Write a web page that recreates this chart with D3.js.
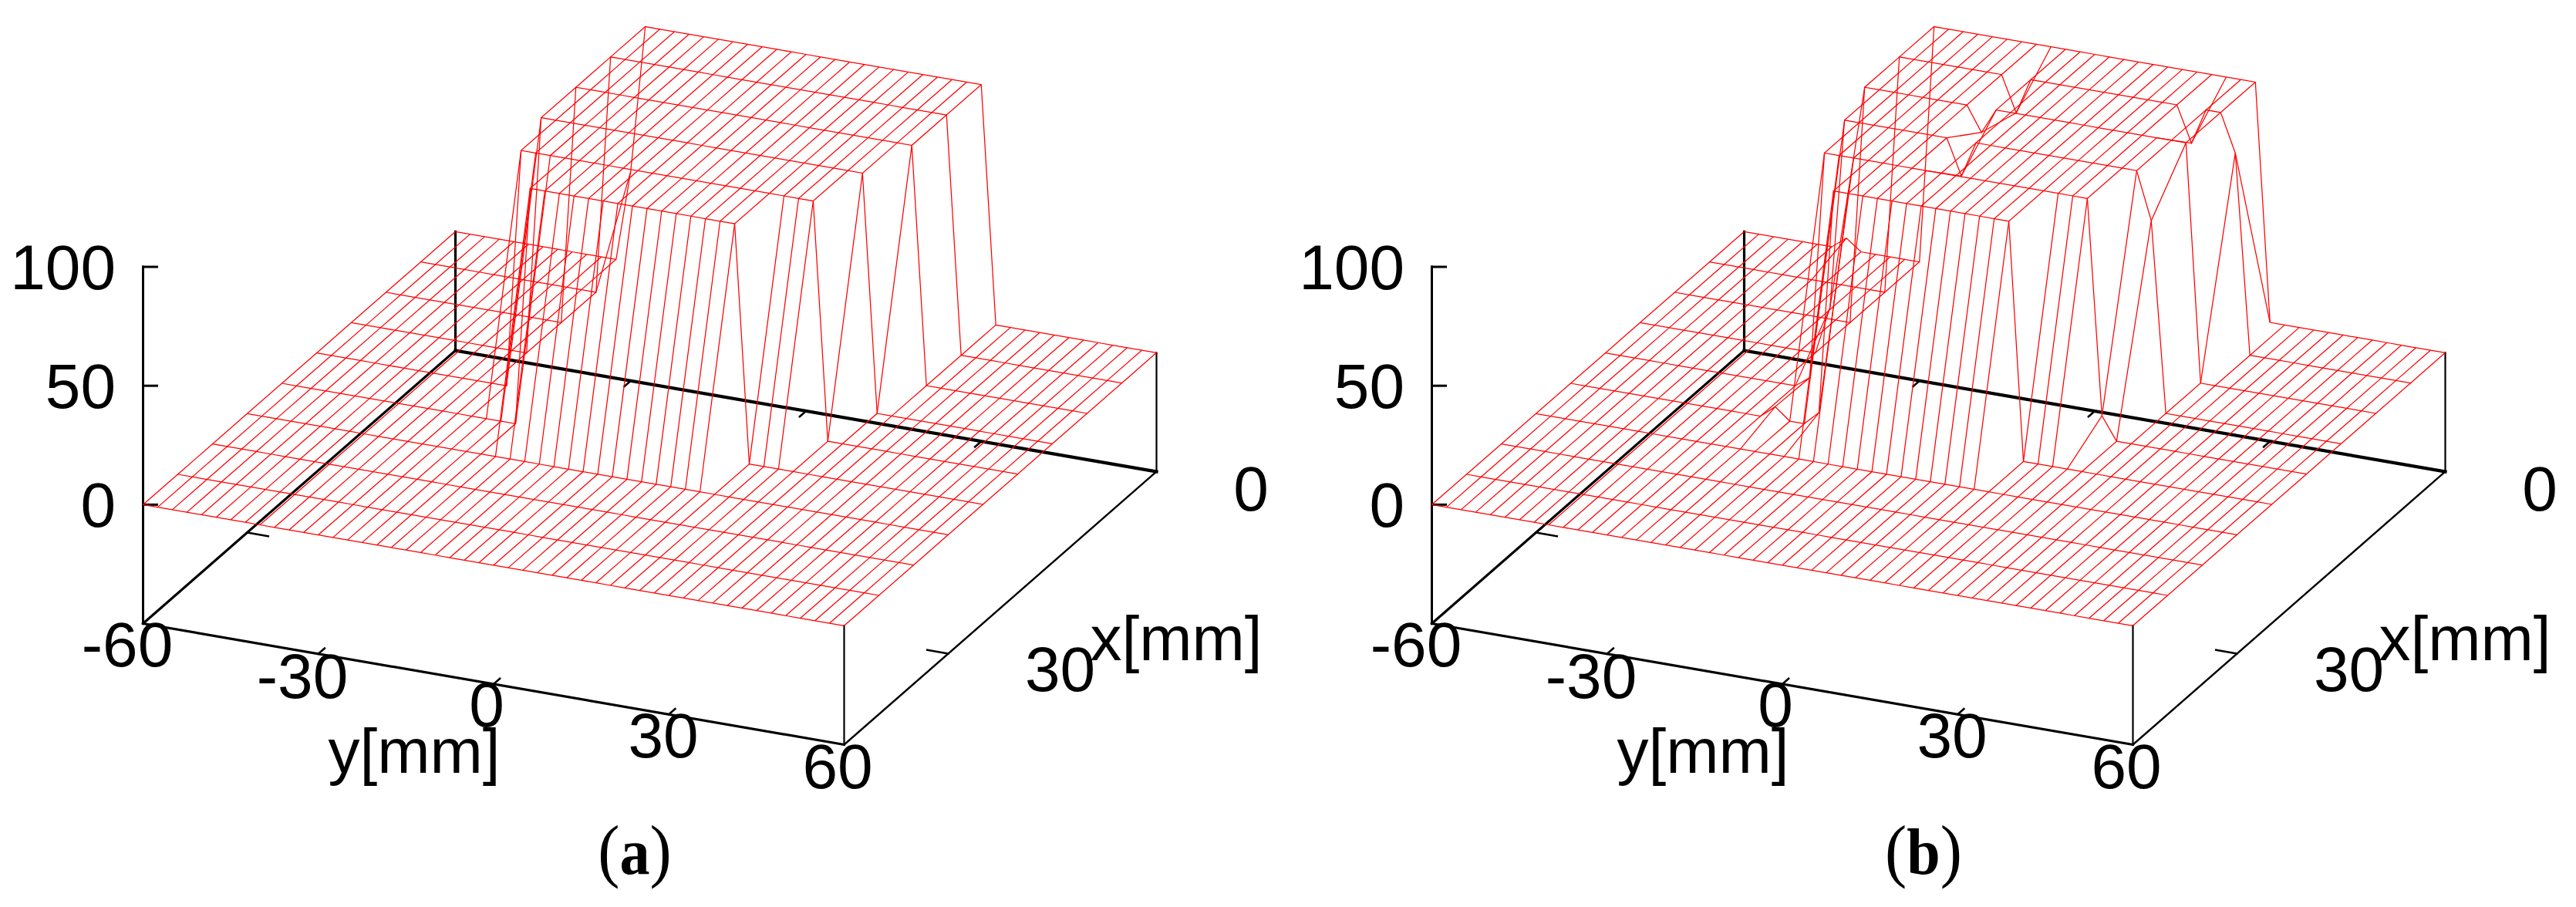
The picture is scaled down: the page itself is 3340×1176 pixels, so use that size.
<!DOCTYPE html>
<html>
<head>
<meta charset="utf-8">
<title>Surface plots</title>
<script src="https://d3js.org/d3.v7.min.js"></script>
<style>
html,body{margin:0;padding:0;background:#fff;}
svg{display:block;}
text{font-family:"Liberation Sans",Arial,sans-serif;fill:#000;}
.cap{font-family:"Liberation Serif",serif;}
</style>
</head>
<body>
<svg id="chart" width="3340" height="1176"></svg>
<script>
// Sample positions of the mesh (mm)
const xSamples = [0,5,10,15,20,25,30,35,40,45];
const ySamples = [-60,-57.5,-55,-52.5,-50,-47.5,-45,-42.5,-40,-37.5,
  -35,-32.5,-30,-27.5,-25,-22.5,-20,-17.5,-15,-12.5,
  -10,-7.5,-5,-2.5,0,2.5,5,7.5,10,12.5,
  15,17.5,20,22.5,25,27.5,30,32.5,35,37.5,
  40,42.5,45,47.5,50,52.5,55,57.5,60];

// Tick values and labels
const zTicks = [0,50,100];
const yTicks = [-60,-30,0,30,60];
const xTicks = [0,30];
const captions = ["a","b"];

// Panel (a): height per row x (rows) and y sample (columns)
const surfaceA = [
 [0,0,0,0,0,0,0,0,0,0, 0,0,38,100,100,100,100,100,100,100, 100,100,100,100,100,100,100,100,100,100, 100,100,100,100,100,100,100,0,0,0, 0,0,0,0,0,0,0,0,0],
 [0,0,0,0,0,0,0,0,0,0, 0,0,0,100,100,100,100,100,100,100, 100,100,100,100,100,100,100,100,100,100, 100,100,100,100,100,100,100,0,0,0, 0,0,0,0,0,0,0,0,0],
 [0,0,0,0,0,0,0,0,0,0, 0,0,0,100,100,100,100,100,100,100, 100,100,100,100,100,100,100,100,100,100, 100,100,100,100,100,100,100,0,0,0, 0,0,0,0,0,0,0,0,0],
 [0,0,0,0,0,0,0,0,0,0, 0,0,0,100,100,100,100,100,100,100, 100,100,100,100,100,100,100,100,100,100, 100,100,100,100,100,100,0,0,0,0, 0,0,0,0,0,0,0,0,0],
 [0,0,0,0,0,0,0,0,0,0, 0,0,0,0,100,100,100,100,100,100, 100,100,100,100,100,100,100,100,100,100, 100,100,100,100,100,0,0,0,0,0, 0,0,0,0,0,0,0,0,0],
 [0,0,0,0,0,0,0,0,0,0, 0,0,0,0,0,0,0,100,100,100, 100,100,100,100,100,100,100,100,100,100, 100,100,0,0,0,0,0,0,0,0, 0,0,0,0,0,0,0,0,0],
 [0,0,0,0,0,0,0,0,0,0, 0,0,0,0,0,0,0,0,0,0, 0,0,0,0,0,0,0,0,0,0, 0,0,0,0,0,0,0,0,0,0, 0,0,0,0,0,0,0,0,0],
 [0,0,0,0,0,0,0,0,0,0, 0,0,0,0,0,0,0,0,0,0, 0,0,0,0,0,0,0,0,0,0, 0,0,0,0,0,0,0,0,0,0, 0,0,0,0,0,0,0,0,0],
 [0,0,0,0,0,0,0,0,0,0, 0,0,0,0,0,0,0,0,0,0, 0,0,0,0,0,0,0,0,0,0, 0,0,0,0,0,0,0,0,0,0, 0,0,0,0,0,0,0,0,0],
 [0,0,0,0,0,0,0,0,0,0, 0,0,0,0,0,0,0,0,0,0, 0,0,0,0,0,0,0,0,0,0, 0,0,0,0,0,0,0,0,0,0, 0,0,0,0,0,0,0,0,0]
];

// Panel (b)
const surfaceB = [
 [0,0,0,0,0,0,0,4.7,0,0, 0,0,0,100,100,100,100,100,100,100, 100,100,100,100,100,100,100,100,100,100, 100,100,100,100,100,100,0,0,0,0, 0,0,0,0,0,0,0,0,0],
 [0,0,0,0,0,0,0,0,0,0, 0,0,0,100,100,100,100,100,100,100, 100,85,100,100,100,100,100,100,100,100, 100,100,100,85,100,100,84,0,0,0, 0,0,0,0,0,0,0,0,0],
 [0,0,0,0,0,0,0,0,0,0, 0,0,0,100,100,100,100,100,100,100, 100,89.5,100,100,100,100,100,100,100,100, 100,100,100,100,100,100,0,0,0,0, 0,0,0,0,0,0,0,0,0],
 [0,0,0,0,0,0,0,0,0,0, 0,0,0,20,100,100,100,100,100,100, 100,100,85,100,100,100,100,100,100,100, 100,100,100,100,100,80,0,0,0,0, 0,0,0,0,0,0,0,0,0],
 [0,0,0,0,0,0,0,0,0,0, 0,0,0,0,4.5,100,100,100,100,100, 100,100,100,100,100,100,100,100,100,100, 100,100,100,100,9.7,0,0,0,0,0, 0,0,0,0,0,0,0,0,0],
 [0,0,0,0,0,0,0,0,0,0, 0,0,0,0,5,0,0,5.7,100,100, 100,100,100,100,100,100,100,100,100,100, 100,0,0,0,0,0,0,0,0,0, 0,0,0,0,0,0,0,0,0],
 [0,0,0,0,0,0,0,0,0,0, 0,0,0,0,0,0,0,0,0,0, 0,0,0,0,0,0,0,0,0,0, 0,0,0,0,0,0,0,0,0,0, 0,0,0,0,0,0,0,0,0],
 [0,0,0,0,0,0,0,0,0,0, 0,0,0,0,0,0,0,0,0,0, 0,0,0,0,0,0,0,0,0,0, 0,0,0,0,0,0,0,0,0,0, 0,0,0,0,0,0,0,0,0],
 [0,0,0,0,0,0,0,0,0,0, 0,0,0,0,0,0,0,0,0,0, 0,0,0,0,0,0,0,0,0,0, 0,0,0,0,0,0,0,0,0,0, 0,0,0,0,0,0,0,0,0],
 [0,0,0,0,0,0,0,0,0,0, 0,0,0,0,0,0,0,0,0,0, 0,0,0,0,0,0,0,0,0,0, 0,0,0,0,0,0,0,0,0,0, 0,0,0,0,0,0,0,0,0]
];

const svg = d3.select("#chart");

// Oblique projection built from linear scales: screen = origin + y part + x part + z part
const origin = [590.5, 454.5];
const yToSx = d3.scaleLinear().domain([-60,60]).range([0,909]);
const yToSy = d3.scaleLinear().domain([-60,60]).range([0,157]);
const xToSx = d3.scaleLinear().domain([0,45]).range([0,-405]);
const xToSy = d3.scaleLinear().domain([0,45]).range([0,354]);
const zToSy = d3.scaleLinear().domain([-50,100]).range([0,-462.5]);
const zMin = -50;

const sx = (x,y) => origin[0] + yToSx(y) + xToSx(x);
const sy = (x,y,z) => origin[1] + yToSy(y) + xToSy(x) + zToSy(z);
const line = d3.line().x(d => d[0]).y(d => d[1]);

function seg(g, pts, w) {
  g.append("path").attr("d", line(pts)).attr("fill","none")
    .attr("stroke","#000").attr("stroke-width",w).attr("stroke-linecap","square");
}

function label(g, txt, x, y, anchor) {
  g.append("text")
    .attr("x",x).attr("y",y)
    .attr("text-anchor",anchor)
    .attr("font-size",82)
    .text(txt);
}

function drawPanel(offset, matrix, caption) {
  const g = svg.append("g").attr("transform",`translate(${offset},0)`);
  const P = (x,y,z) => [sx(x,y), sy(x,y,z)];
  const X0 = xTicks[0], X1 = xSamples[xSamples.length-1];
  const Y0 = yTicks[0], Y1 = yTicks[yTicks.length-1];

  // Base frame
  seg(g,[P(X0,Y0,zMin),P(X0,Y1,zMin)],4.2);   // back right edge
  seg(g,[P(X0,Y0,zMin),P(X1,Y0,zMin)],3.2);   // back left edge
  seg(g,[P(X1,Y0,zMin),P(X1,Y1,zMin)],3.2);   // front left edge
  seg(g,[P(X1,Y1,zMin),P(X0,Y1,zMin)],2.4);   // front right edge

  // Vertical frame lines up to the z=0 plane
  seg(g,[P(X0,Y0,zMin),P(X0,Y0,0)],3.2);
  seg(g,[P(X1,Y1,zMin),P(X1,Y1,0)],2.2);
  seg(g,[P(X0,Y1,zMin),P(X0,Y1,0)],2.2);

  // z axis
  seg(g,[P(X1,Y0,zMin),P(X1,Y0,zTicks[zTicks.length-1])],3);
  zTicks.forEach(t => {
    const p = P(X1,Y0,t);
    seg(g,[p,[p[0]+18,p[1]]],3);
    label(g,String(t),150,p[1]+28.5,"end");
  });

  // y ticks on both base edges
  yTicks.slice(1,-1).forEach(t => {
    const a = P(X1,t,zMin), b = P(X1 - 0.02*(X1-X0),t,zMin);
    seg(g,[a,b],2.6);
    const c = P(X0,t,zMin), d = P(X0 + 0.02*(X1-X0),t,zMin);
    seg(g,[c,d],2.6);
  });
  // x ticks on both base edges
  xTicks.slice(1).forEach(t => {
    const a = P(t,Y0,zMin), b = P(t,Y0+0.03*(Y1-Y0),zMin);
    seg(g,[a,b],2.6);
    const c = P(t,Y1,zMin), d = P(t,Y1-0.03*(Y1-Y0),zMin);
    seg(g,[c,d],2.6);
  });

  // Surface mesh
  const mesh = g.append("g").attr("fill","none").attr("stroke","#ff0000")
     .attr("stroke-width",1.25).attr("stroke-linejoin","miter");
  mesh.selectAll("path.row").data(matrix).join("path").attr("class","row")
    .attr("d",(row,i) => line(row.map((z,j) => P(xSamples[i],ySamples[j],z))));
  mesh.selectAll("path.col").data(ySamples).join("path").attr("class","col")
    .attr("d",(y,j) => line(xSamples.map((x,i) => P(x,y,matrix[i][j]))));

  // Tick labels
  const yLab = [[165,864],[392,905],[631,942],[860,982],[1086,1022]];
  yTicks.forEach((t,k) => label(g,String(t),yLab[k][0],yLab[k][1],"middle"));
  label(g,"0",1622,662,"middle");
  label(g,"30",1374.5,896,"middle");
  label(g,"x[mm]",1525,856,"middle");
  label(g,"y[mm]",537,1002,"middle");

  // Caption
  const c = g.append("text").attr("class","cap")
    .attr("transform",`translate(823,1133) scale(0.93,1)`)
    .attr("text-anchor","middle").attr("font-size",91);
  c.append("tspan").text("(");
  c.append("tspan").attr("font-weight","bold").attr("font-size",84).text(caption);
  c.append("tspan").text(")");
}

drawPanel(0, surfaceA, captions[0]);
drawPanel(1671, surfaceB, captions[1]);
</script>
</body>
</html>
